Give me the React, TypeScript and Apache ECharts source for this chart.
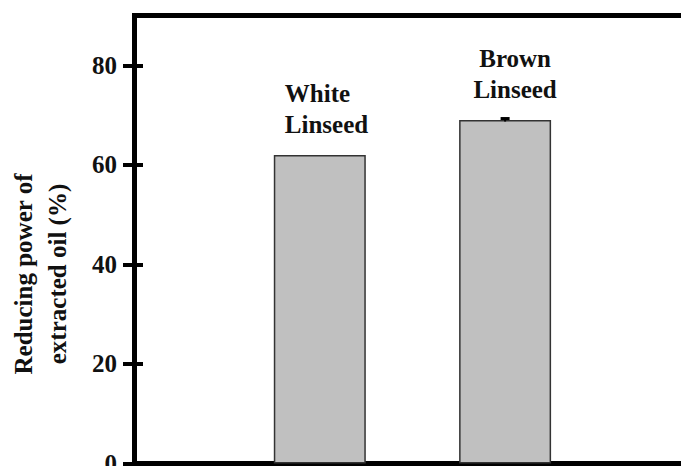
import React, { useEffect, useRef } from 'react';
import * as echarts from 'echarts';

const categories = ['White Linseed', 'Brown Linseed'];
const positions = [1, 2];
const values = [62, 69];
const errors = [0, 0.3];
const yTicks = [0, 20, 40, 60, 80];
const yAxisTitle = ['Reducing power of', 'extracted oil (%)'];

export default function App() {
  const ref = useRef<HTMLDivElement>(null);
  useEffect(() => {
    const chart = echarts.init(ref.current!, null, { renderer: 'svg' });
    const font = 'Liberation Serif';
    const labelStyles = [
      { offset: [-35, 0], align: 'left' },
      { offset: [10, 0], align: 'center' },
    ];
    const tickStyle = { color: '#000', width: 4 };
    chart.setOption({
      animation: false,
      textStyle: { fontFamily: font },
      grid: {
        left: 134.5, right: -9.4, top: 15.5, bottom: 2.5,
        outerBoundsMode: 'none',
        containLabel: false,
        show: true, borderColor: '#000', borderWidth: 5, backgroundColor: 'transparent',
      },
      xAxis: {
        type: 'value', min: 0, max: 3,
        axisLine: { show: false }, axisTick: { show: false },
        axisLabel: { show: false }, splitLine: { show: false },
      },
      yAxis: [
        {
          type: 'value', min: 0, max: 90,
          axisLine: { show: true, lineStyle: { color: '#000', width: 5 } },
          axisTick: { show: true, customValues: yTicks, length: 11.5, lineStyle: tickStyle },
          axisLabel: {
            customValues: yTicks, margin: 17.5, fontSize: 25, fontWeight: 'bold',
            fontFamily: font, color: '#111',
          },
          splitLine: { show: false },
        },
        {
          type: 'value', min: 0, max: 90, position: 'left',
          axisLine: { show: false },
          axisTick: { show: true, inside: true, customValues: yTicks, length: 8.5, lineStyle: tickStyle },
          axisLabel: { show: false }, splitLine: { show: false },
        },
      ],
      series: [
        {
          type: 'bar',
          data: values.map((v, i) => ({
            value: [positions[i], v],
            name: categories[i],
            label: labelStyles[i],
          })),
          barWidth: 92,
          itemStyle: { color: '#c0c0c0', borderColor: '#333', borderWidth: 1.5 },
          label: {
            show: true, position: 'top', distance: 15,
            formatter: (p: any) => p.name.replace(' ', '\n'),
            fontSize: 25, lineHeight: 31, fontWeight: 'bold', fontFamily: font, color: '#111',
          },
        },
        {
          type: 'custom',
          z: 5,
          data: positions.map((p, i) => [p, values[i], errors[i]]),
          renderItem: (params: any, api: any) => {
            const x = api.value(0);
            const v = api.value(1);
            const e = api.value(2);
            if (!e) return { type: 'group', children: [] };
            const top = api.coord([x, v + e]);
            const bot = api.coord([x, v - e]);
            return {
              type: 'group',
              children: [
                { type: 'line', shape: { x1: top[0], y1: top[1], x2: bot[0], y2: bot[1] }, style: { stroke: '#000', lineWidth: 2 } },
                { type: 'line', shape: { x1: top[0] - 4.5, y1: top[1], x2: top[0] + 4.5, y2: top[1] }, style: { stroke: '#000', lineWidth: 3 } },
              ],
            };
          },
        },
      ],
      graphic: [
        {
          type: 'text',
          x: 40,
          y: 274,
          rotation: Math.PI / 2,
          style: {
            text: yAxisTitle.join('\n'),
            fontSize: 25, fontWeight: 'bold', fontFamily: font, fill: '#111',
            lineHeight: 34, align: 'center', verticalAlign: 'middle',
          },
        },
      ],
    });
    return () => chart.dispose();
  }, []);
  return <div ref={ref} style={{ position: 'absolute', left: 0, top: 0, width: 681, height: 466 }} />;
}
